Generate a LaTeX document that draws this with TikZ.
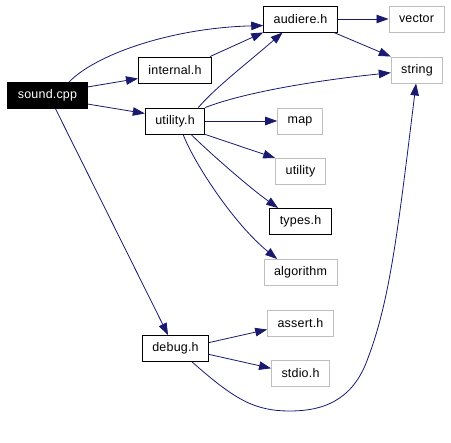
\documentclass[tikz,border=0pt]{standalone}
\usepackage{fontspec}
\newfontfamily\dotfont[LetterSpace=1.5]{Liberation Sans}
\usepackage{xcolor}
\definecolor{depblue}{RGB}{25,25,112}
\definecolor{sysgray}{RGB}{191,191,191}
\usetikzlibrary{arrows.meta}

\tikzset{
  filebox/.style={draw=black, line width=0.9pt, minimum height=26pt, inner xsep=10pt, inner ysep=0pt, font=\dotfont\fontsize{12.5}{14}\selectfont},
  sysbox/.style={filebox, draw=sysgray},
  rootbox/.style={filebox, fill=black, text=white},
  dep/.style={depblue, line width=0.8pt, -{Triangle[length=12pt, width=8.5pt]}}
}

\begin{document}
\begin{tikzpicture}[x=1pt, y=-1pt]
  \useasboundingbox (0,0) rectangle (451,443);
  % Project files
  \node[rootbox] (sound) at (47.5,95.5) {sound.cpp};
  \node[filebox] (internal) at (175,70) {internal.h};
  \node[filebox] (audiere) at (300.5,19) {audiere.h};
  \node[filebox] (utilh) at (175,121) {utility.h};
  \node[filebox] (types) at (300.5,221.5) {types.h};
  \node[filebox] (debug) at (175.5,348.5) {debug.h};
  % System headers
  \foreach \n/\t/\x/\y in {
    vector/vector/416.5/19,
    string/string/417/70,
    map/map/300/121,
    utility/utility/300.5/171.5,
    algorithm/algorithm/300.5/272.5,
    assert/assert.h/300.5/323,
    stdio/stdio.h/300.5/373.5} {
    \node[sysbox] (\n) at (\x,\y) {\t};
  }
  % Straight includes
  \foreach \a/\b in {
    sound.12/internal.193,
    sound.348/utilh.166,
    sound.301/debug.119,
    internal.21/audiere.south west,
    audiere.east/vector.west,
    audiere.338/string.north west,
    utilh.east/map.west,
    utilh.south east/utility.north west,
    debug.10/assert.191,
    debug.350/stdio.170} {
    \draw[dep] (\a) -- (\b);
  }
  % Curved includes
  \draw[dep] (sound.32) .. controls (95,55) and (170,28) .. (audiere.190);
  \draw[dep] (utilh.30) .. controls (215,88) and (245,65) .. (audiere.217);
  \draw[dep] (utilh.north east) .. controls (245,92) and (320,80) .. (string.186);
  \draw[dep] (utilh.320) .. controls (212,155) and (250,188) .. (types.149);
  \draw[dep] (utilh.301) .. controls (195,165) and (235,225) .. (algorithm.150);
  \draw[dep] (debug.321) .. controls (235,400) and (255,411) .. (290,411)
    .. controls (330,411) and (355,395) .. (368,358)
    .. controls (390,300) and (398,230) .. (string.266);
\end{tikzpicture}
\end{document}
